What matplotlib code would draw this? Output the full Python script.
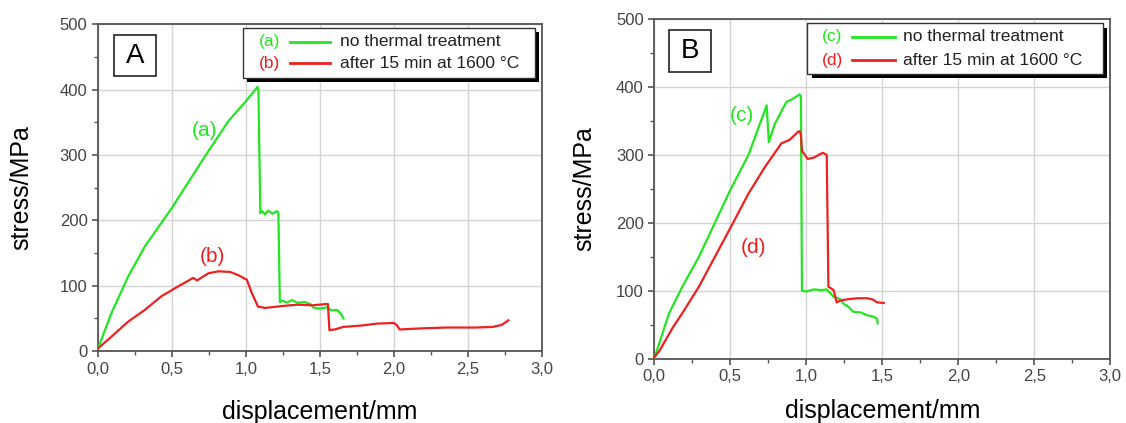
import numpy as np
import matplotlib.pyplot as plt
from matplotlib.patches import Rectangle
from matplotlib.ticker import FuncFormatter, MultipleLocator

plt.rcParams['font.family'] = ['Liberation Sans', 'DejaVu Sans']

GREEN = '#22e622'
RED = '#ee2020'

# panel A, curve (a): no thermal treatment
a_x = [0.0, 0.091, 0.204, 0.317, 0.50, 0.724, 0.883, 1.00, 1.079, 1.085,
       1.098, 1.11, 1.13, 1.15, 1.18, 1.21, 1.22, 1.23, 1.25, 1.28, 1.31, 1.35,
       1.40, 1.435, 1.46, 1.50, 1.55, 1.58, 1.615, 1.64, 1.66]
a_y = [4, 58, 114, 160, 219, 298, 352, 382, 404, 398,
       211, 214, 209, 215, 210, 214, 212, 75, 77, 74, 78, 74,
       75, 72, 66, 65, 67, 62, 63, 58, 50]
# panel A, curve (b): after 15 min at 1600 C
b_x = [0.0, 0.091, 0.204, 0.317, 0.43, 0.543, 0.645, 0.67, 0.747, 0.815, 0.894,
       0.95, 1.007, 1.04, 1.082, 1.13, 1.25, 1.35, 1.45, 1.547, 1.555, 1.565, 1.60,
       1.66, 1.78, 1.885, 2.00, 2.02, 2.04, 2.12, 2.22, 2.35, 2.45, 2.55, 2.67,
       2.73, 2.775]
b_y = [4, 22, 45, 63, 84, 99, 112, 108, 119, 122, 121,
       116, 109, 89, 68, 66, 69, 71, 70, 72, 72, 32, 33,
       37, 39, 42, 43, 40, 33, 34, 35, 36, 36, 36, 37,
       40, 47]

# panel B, curve (c): no thermal treatment
c_x = [0.0, 0.098, 0.185, 0.294, 0.50, 0.62, 0.74, 0.754, 0.794, 0.87, 0.90,
       0.957, 0.965, 0.972, 1.00, 1.05, 1.10, 1.135, 1.18, 1.22,
       1.245, 1.28, 1.31, 1.36, 1.40, 1.44, 1.465, 1.47]
c_y = [0, 67, 106, 150, 248, 300, 373, 319, 346, 378, 381,
       389, 386, 100, 99, 102, 101, 102, 91, 88,
       81, 76, 69, 68, 64, 62, 59, 52]
# panel B, curve (d): after 15 min at 1600 C
d_x = [0.0, 0.033, 0.12, 0.185, 0.294, 0.50, 0.62, 0.728, 0.837, 0.89, 0.946,
       0.957, 0.965, 0.972, 1.01, 1.05, 1.09, 1.11, 1.135, 1.146, 1.16,
       1.18, 1.20, 1.23, 1.29, 1.34, 1.40, 1.44, 1.465, 1.51]
d_y = [2, 11, 45, 67, 106, 192, 243, 282, 317, 322, 334,
       335, 330, 306, 294, 296, 301, 303, 300, 106, 104,
       101, 83, 86, 88, 89, 89, 87, 83, 82]

x_ticks = [0.0, 0.5, 1.0, 1.5, 2.0, 2.5, 3.0]
y_ticks = [0, 100, 200, 300, 400, 500]

fig = plt.figure(figsize=(11.26, 4.23), dpi=100)
axA = fig.add_axes([0.087, 0.170, 0.394, 0.773])
axB = fig.add_axes([0.581, 0.152, 0.405, 0.803])

comma = FuncFormatter(lambda v, p: ('%.1f' % v).replace('.', ','))


def style_axis(ax):
    ax.set_xlim(0, 3)
    ax.set_ylim(0, 500)
    ax.set_xticks(x_ticks)
    ax.set_yticks(y_ticks)
    ax.xaxis.set_major_formatter(comma)
    ax.xaxis.set_minor_locator(MultipleLocator(0.25))
    ax.yaxis.set_minor_locator(MultipleLocator(50))
    ax.grid(True, which='major', color='#d4d4d4', lw=1.0)
    ax.set_axisbelow(True)
    for s in ax.spines.values():
        s.set_color('#555555')
        s.set_linewidth(1.3)
    ax.tick_params(which='major', direction='out', length=4, width=1.2,
                   color='#555555', labelsize=12, labelcolor='#444444')
    ax.tick_params(which='minor', direction='out', length=3, width=1.0,
                   color='#555555')
    ax.set_xlabel('displacement/mm', fontsize=18)
    ax.set_ylabel('stress/MPa', fontsize=18)


def legend_box(ax, x0, x1, y0, y1, tags, rows_y, tag_x, line_x, text_x):
    ax.add_patch(Rectangle((x0 + 0.009, y0 - 0.013), x1 - x0, y1 - y0,
                           transform=ax.transAxes, facecolor='black',
                           edgecolor='none', zorder=5, clip_on=False))
    ax.add_patch(Rectangle((x0, y0), x1 - x0, y1 - y0, transform=ax.transAxes,
                           facecolor='white', edgecolor='#333333', lw=1.0,
                           zorder=6, clip_on=False))
    labels = ['no thermal treatment', 'after 15 min at 1600 °C']
    for tag, yy, col, lab in zip(tags, rows_y, [GREEN, RED], labels):
        ax.text(tag_x, yy, tag, color=col, fontsize=12.5, ha='center', va='center',
                transform=ax.transAxes, zorder=7)
        ax.plot(line_x, [yy, yy], color=col, lw=2, transform=ax.transAxes,
                zorder=7, clip_on=False)
        ax.text(text_x, yy, lab, color='#222222', fontsize=12.5, ha='left',
                va='center', transform=ax.transAxes, zorder=7)


def panel_tag(ax, x0, x1, y0, y1, letter):
    ax.add_patch(Rectangle((x0, y0), x1 - x0, y1 - y0, transform=ax.transAxes,
                           facecolor='white', edgecolor='#222222', lw=1.2, zorder=6))
    ax.text((x0 + x1) / 2, (y0 + y1) / 2, letter, fontsize=20, ha='center',
            va='center', transform=ax.transAxes, zorder=7)


# Panel A
style_axis(axA)
axA.plot(a_x, a_y, color=GREEN, lw=1.6, zorder=3)
axA.plot(b_x, b_y, color=RED, lw=1.6, zorder=3)
axA.text(0.723, 338, '(a)', color=GREEN, fontsize=15, ha='center', va='center')
axA.text(0.777, 145, '(b)', color=RED, fontsize=15, ha='center', va='center')
axA.yaxis.set_label_coords(-0.146, 0.5)
axA.xaxis.set_label_coords(0.5, -0.15)
legend_box(axA, 0.327, 0.984, 0.835, 0.988, ['(a)', '(b)'], [0.946, 0.880],
           0.387, [0.432, 0.523], 0.545)
panel_tag(axA, 0.036, 0.131, 0.841, 0.966, 'A')

# Panel B
style_axis(axB)
axB.plot(c_x, c_y, color=GREEN, lw=1.6, zorder=3)
axB.plot(d_x, d_y, color=RED, lw=1.6, zorder=3)
axB.text(0.579, 358, '(c)', color=GREEN, fontsize=15, ha='center', va='center')
axB.text(0.65, 164, '(d)', color=RED, fontsize=15, ha='center', va='center')
axB.yaxis.set_label_coords(-0.127, 0.5)
axB.xaxis.set_label_coords(0.5, -0.118)
legend_box(axB, 0.336, 0.985, 0.838, 0.988, ['(c)', '(d)'], [0.948, 0.879],
           0.39, [0.434, 0.529], 0.546)
panel_tag(axB, 0.033, 0.125, 0.844, 0.968, 'B')

fig.savefig('out.png', dpi=100)
